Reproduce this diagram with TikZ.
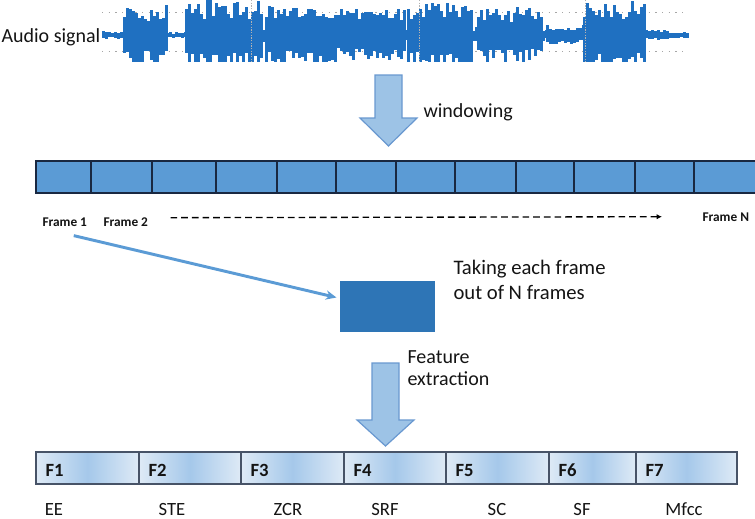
\documentclass[tikz,border=0pt]{standalone}
\usepackage{fontspec}
\setmainfont{Carlito}
\usetikzlibrary{arrows.meta}
\definecolor{waveblue}{RGB}{31,112,193}
\definecolor{cellblue}{RGB}{91,155,213}
\definecolor{celline}{RGB}{25,40,65}
\definecolor{boxblue}{RGB}{46,117,182}
\definecolor{arrowfill}{RGB}{157,195,230}
\definecolor{arrowline}{RGB}{105,152,208}
\definecolor{cellside}{RGB}{222,234,246}
\definecolor{cellmid}{RGB}{165,200,234}
\definecolor{inkblack}{RGB}{20,20,20}

\begin{document}
\begin{tikzpicture}[x=0.75pt,y=-0.75pt,line width=0.8pt,>=Stealth,
  txt/.style={font=\fontsize{15}{18.75}\selectfont,text=inkblack,inner sep=0pt,align=left},
  frlbl/.style={font=\fontsize{10}{12}\selectfont\bfseries,text=inkblack,inner sep=0pt},
  flbl/.style={font=\fontsize{14}{16}\selectfont\bfseries,text=inkblack,inner sep=0pt},
  featlbl/.style={font=\fontsize{14}{16}\selectfont,text=inkblack,inner sep=0pt},
  blockarrow/.style={fill=arrowfill,draw=arrowline,line width=0.9pt,line join=miter},
  fcell/.style={left color=cellside,right color=cellside,middle color=cellmid},
  gridline/.style={black!35,line width=0.6pt,dash pattern=on 1pt off 4pt}]
\useasboundingbox (0,0) rectangle (755,518);
% 音频波形
\node[txt,anchor=base west] (audio) at (1,42) {Audio signal};
\draw[gridline] (102,12) -- (688,12);
\draw[gridline] (102,51) -- (688,51);
\begin{scope}
\clip (100,0) rectangle (690,62);
\pgfmathsetseed{17}
\foreach \a/\b/\h in {102/123/4,123/166/31,166/185/3,185/260/35,260/265/8,
  265/335/31,335/337/6,337/404/26,404/407/6,407/472/33,472/477/8,
  477/542/28,542/546/6,546/583/10,583/645/35,645/668/6,668/688/3}{
  \pgfmathtruncatemacro\c{\a+3}
  \foreach \x in {\a,\c,...,\b}{
    \pgfmathsetmacro\u{\h*(0.45+0.55*rnd)}
    \pgfmathsetmacro\d{min(\h*(0.5+0.5*rnd),27)}
    \fill[waveblue] (\x-0.2,35-\u) rectangle (\x+3.2,35+\d);
  }
}
\end{scope}
\foreach \x in {251,419,585}
  \draw[black!30,line width=0.7pt,dash pattern=on 1pt off 1pt] (\x,0) -- (\x,62);
% 分帧箭头
\filldraw[blockarrow] (375,75) -- (402,75) -- (402,118) -- (417,118) -- (388.5,146)
  -- (360,118) -- (375,118) -- cycle;
\node[txt,anchor=base west] (windowing) at (423,117) {windowing};
% 帧序列（12 格）
\fill[cellblue] (36,161) rectangle (755,193);
\draw[celline] (755,161) -- (36,161) -- (36,193) -- (755,193);
\foreach \x in {91,152,216,277,336,396,455,516,574,635,694}
  \draw[celline] (\x,161) -- (\x,193);
\node[frlbl,anchor=base west] (frame1) at (42,226) {Frame 1};
\node[frlbl,anchor=base west] (frame2) at (103,226) {Frame 2};
\node[frlbl,anchor=base west] (frameN) at (702,221) {Frame N};
\draw[line width=1pt,dash pattern=on 5pt off 3pt,-{Latex[length=4pt,width=4pt]}]
  ([shift={(22,-4)}]frame2.east) -- ([xshift=-30]frameN.west);
% 取出单帧
\node[fill=boxblue,minimum width=71.25pt,minimum height=38.25pt,inner sep=0pt] (pick) at (387.5,306.5) {};
\draw[cellblue,line width=2.2pt,-{Stealth[length=8pt,width=7pt]}]
  ([shift={(9,9)}]frame1.south) -- ([shift={(-3,-9)}]pick.west);
\node[txt,anchor=base west,font=\fontsize{15.5}{18.75}\selectfont] (taking) at (453,299) {Taking each frame\\out of N frames};
% 特征提取箭头
\filldraw[blockarrow] (372,363) -- (399,363) -- (399,420) -- (414,420) -- (385.5,446)
  -- (357,420) -- (372,420) -- cycle;
\node[txt,anchor=base west,font=\fontsize{15}{16.5}\selectfont] (extract) at (407,385) {Feature\\extraction};
% 特征向量 F1--F7
\foreach \l/\r/\n in {36/139/1,139/241/2,241/344/3,344/446/4,446/549/5,549/636/6,636/737/7}{
  \path[fcell] (\l,452) rectangle (\r,484);
  \draw[celline!80,line width=0.9pt] (\l,452) rectangle (\r,484);
  \node[flbl,anchor=base west] (f\n) at (\l+9,476) {F\n};
}
\foreach \x/\t [count=\i] in {54/EE,172/STE,288/ZCR,385/SRF,497/SC,582/SF,684/Mfcc}
  \node[featlbl,anchor=base] (feat\i) at (\x,515) {\t};
\end{tikzpicture}
\end{document}
